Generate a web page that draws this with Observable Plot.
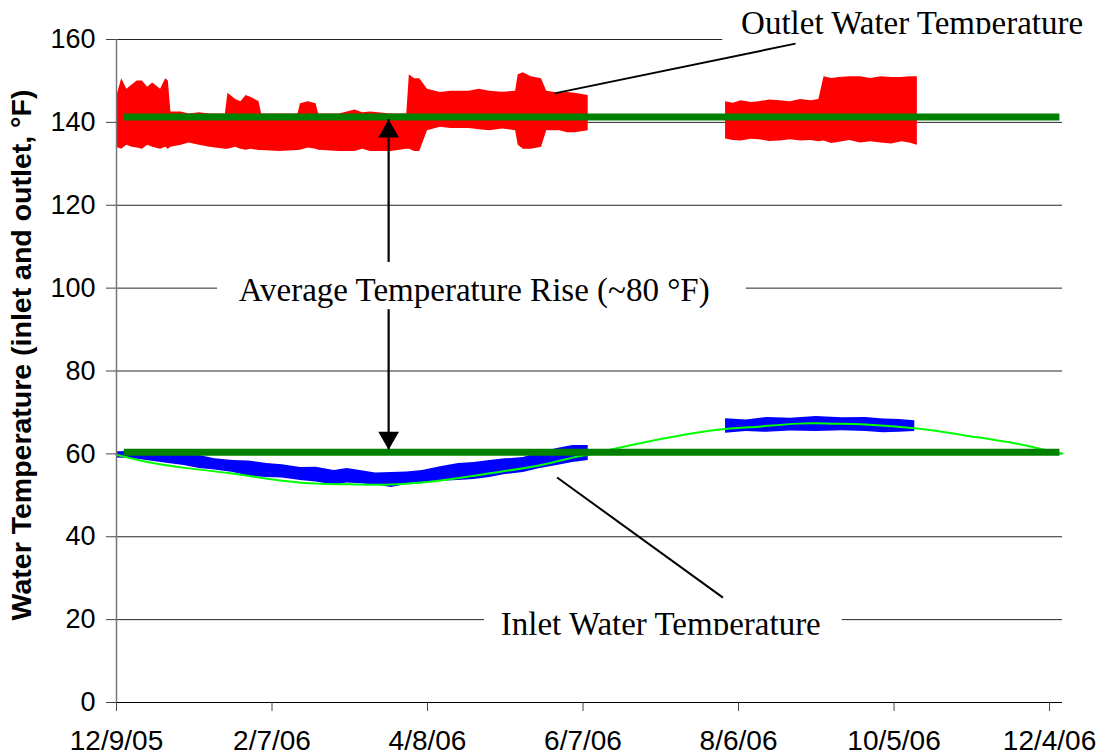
<!DOCTYPE html>
<html>
<head>
<meta charset="utf-8">
<script src="https://cdn.jsdelivr.net/npm/d3@7"></script>
<script src="https://cdn.jsdelivr.net/npm/@observablehq/plot@0.6"></script>
<style>
  html, body { margin: 0; padding: 0; background: #fff; }
  #chart svg { display: block; }
</style>
</head>
<body>
<div id="chart"></div>
<script>
// ---- axes ----
const xTickDates = ["2005-12-09", "2006-02-07", "2006-04-08", "2006-06-07", "2006-08-06", "2006-10-05", "2006-12-04"];
const xTickLabels = ["12/9/05", "2/7/06", "4/8/06", "6/7/06", "8/6/06", "10/5/06", "12/4/06"];
const yTicks = [0, 20, 40, 60, 80, 100, 120, 140, 160];
const xDomain = ["2005-12-09", "2006-12-09"];
const yTitle = "Water Temperature (inlet and outlet, \u00B0F)";

// ---- outlet water temperature (red), envelope of the logged readings ----
const outletDates1 = ["2005-12-09","2005-12-11","2005-12-13","2005-12-15","2005-12-17","2005-12-19","2005-12-21","2005-12-23","2005-12-26","2005-12-28","2005-12-29","2005-12-30",
  "2006-01-03","2006-01-06","2006-01-10","2006-01-14","2006-01-20","2006-01-21","2006-01-24","2006-01-26","2006-01-28","2006-01-30","2006-02-02","2006-02-03","2006-02-10",
  "2006-02-17","2006-02-18","2006-02-21","2006-02-24","2006-02-25","2006-03-05","2006-03-11","2006-03-14","2006-03-17","2006-03-25","2006-03-31",
  "2006-04-01","2006-04-03","2006-04-05","2006-04-08","2006-04-13","2006-04-17","2006-04-24","2006-04-28","2006-05-02","2006-05-07","2006-05-12","2006-05-13","2006-05-15","2006-05-18",
  "2006-05-22","2006-05-24","2006-05-29","2006-06-01","2006-06-04","2006-06-09"];
const outletHigh1 = [146, 150.5, 148, 149, 150, 150, 148.5, 149.5, 148, 150.5, 150, 142.5,
  142.5, 142, 142.3, 142, 142, 147, 145.5, 145, 146.5, 146, 145, 142, 142,
  142, 144.5, 145, 144.5, 142, 142, 143, 142.3, 142.5, 142, 142,
  151.5, 150.5, 150.5, 148, 147.2, 147.5, 147.5, 148, 147.5, 147.3, 147.5, 151.5, 152, 151,
  150.5, 147.5, 147, 147.2, 147, 146.5];
const outletLow1 = [134, 133.5, 134.5, 134, 133.8, 133.5, 134.5, 134, 133.5, 134, 133.5, 134,
  134.5, 135, 134.5, 134, 133.5, 133.5, 134, 133.5, 133.3, 133.5, 133.2, 133.2, 133,
  133.2, 133.3, 133.8, 133.5, 133.3, 133, 133, 133.5, 133, 133, 133.5,
  133.5, 133, 133, 138, 138.8, 138.5, 138.5, 138.2, 138, 138.4, 138, 134.5, 133.5, 133.5,
  134, 138, 138, 137.5, 137.5, 138];
const outletDates2 = ["2006-08-01","2006-08-04","2006-08-07","2006-08-11","2006-08-14","2006-08-18","2006-08-22","2006-08-26","2006-08-30","2006-09-03","2006-09-06","2006-09-08",
  "2006-09-11","2006-09-14","2006-09-18","2006-09-22","2006-09-26","2006-09-30","2006-10-04","2006-10-08","2006-10-11","2006-10-14"];
const outletHigh2 = [145, 144.6, 145.2, 144.8, 145, 145.4, 145.2, 145, 145.5, 145.2, 145.5, 151, 150.6, 150.8, 151, 151, 150.6, 151, 150.8, 150.8, 151, 151];
const outletLow2 = [136, 135.6, 135.5, 135.9, 135.8, 135.4, 135.5, 135.8, 135.5, 135.6, 135.3, 135.5, 134.9, 135.2, 135.6, 135, 135.3, 135, 134.8, 135.3, 135, 134.5];

// ---- inlet water temperature (blue) ----
const inletDates1 = ["2005-12-09","2005-12-15","2005-12-22","2005-12-29","2006-01-04","2006-01-10","2006-01-16","2006-01-23","2006-01-29","2006-02-05","2006-02-11","2006-02-18","2006-02-24",
  "2006-03-03","2006-03-08","2006-03-13","2006-03-19","2006-03-25","2006-03-31","2006-04-06","2006-04-13","2006-04-20","2006-04-26","2006-05-02","2006-05-08","2006-05-15","2006-05-21","2006-05-28","2006-06-03","2006-06-09"];
const inletHigh1 = [60.5, 60.6, 60.5, 60.8, 59.8, 59.6, 58.8, 58.4, 58.3, 57.7, 57.4, 56.7, 56.8,
  56, 56.5, 56, 55.4, 55.5, 55.6, 56, 56.9, 57.7, 57.9, 58.4, 58.8, 59.1, 60.2, 61.3, 62, 62];
const inletLow1 = [59, 58.9, 58.3, 57.7, 57.2, 56.5, 56.1, 55.5, 54.6, 54.3, 54.2, 53.6, 53.2,
  52.4, 53, 52.8, 52.5, 51.9, 52.6, 52.8, 53.4, 53.6, 53.8, 54.3, 55, 55.5, 56.4, 57.2, 57.9, 58.4];
const inletDates2 = ["2006-08-01","2006-08-09","2006-08-17","2006-08-26","2006-09-05","2006-09-15","2006-09-24","2006-10-01","2006-10-07","2006-10-13"];
const inletHigh2 = [68.5, 68.2, 68.8, 68.6, 69, 68.7, 68.8, 68.4, 68.3, 68];
const inletLow2 = [65, 65.4, 65.2, 65.5, 65.4, 65.6, 65.4, 65.1, 65.2, 65.4];

// ---- seasonal inlet fit (light green) ----
const fitDates = ["2005-12-09","2005-12-22","2006-01-06","2006-01-22","2006-02-10","2006-02-26","2006-03-13","2006-03-25",
  "2006-04-13","2006-05-02","2006-05-21","2006-06-03","2006-06-09","2006-06-21","2006-07-22","2006-08-10","2006-08-29",
  "2006-09-11","2006-09-24","2006-10-14","2006-11-02","2006-11-21","2006-12-01","2006-12-09"];
const fitValues = [59.8, 57.9, 56.5, 55.3, 53.6, 52.8, 52.6, 52.6,
  53.6, 55.3, 57.2, 59.1, 59.8, 61.5, 65.2, 66.4, 67.3,
  67.3, 67.1, 66.1, 64.4, 62.5, 61.1, 60.1];

// ---- average levels (dark green) ----
const averageLevels = [141.3, 60.4];
const averageSpan = ["2005-12-12", "2006-12-08"];

// ---- annotations ----
const riseLabel = "Average Temperature Rise (~80 \u00B0F)";
const outletLabel = "Outlet Water Temperature";
const inletLabel = "Inlet Water Temperature";
const arrowDate = "2006-03-24";
const arrowTop = 140.7, arrowBottom = 61.0;
const outletPointer = {from: ["2006-08-28", 159.0], to: ["2006-05-27", 147.0]};
const inletPointer = {from: ["2006-05-28", 54.3], to: ["2006-07-31", 25.3]};
const labelBoxes = [
  {x1: "2006-07-31", x2: "2006-12-31", y1: 158.8, y2: 172},   // outlet label box
  {x1: "2006-01-17", x2: "2006-08-09", y1: 94.8, y2: 106.2},  // rise label box
  {x1: "2006-04-30", x2: "2006-09-15", y1: 13.5, y2: 25.1}    // inlet label box
];
const labelClips = [
  {x1: "2006-07-31", x2: "2006-12-31", y1: 158.8, y2: 161.2},
  {x1: "2006-04-30", x2: "2006-09-15", y1: 13.5, y2: 16.2}
];
const outletText = {x: "2006-08-07", y: 161.4};
const riseText = {x: "2006-04-26", y: 97.0};
const inletText = {x: "2006-07-07", y: 16.3};

// ---- build tables ----
const D = s => new Date(s);
const band = (dates, hi, lo, seg) => dates.map((d, i) => ({date: D(d), hi: hi[i], lo: lo[i], seg}));
const outlet = [...band(outletDates1, outletHigh1, outletLow1, 1), ...band(outletDates2, outletHigh2, outletLow2, 2)];
const inlet = [...band(inletDates1, inletHigh1, inletLow1, 1), ...band(inletDates2, inletHigh2, inletLow2, 2)];
const fit = fitDates.map((d, i) => ({date: D(d), v: fitValues[i]}));
const tickLabelMap = new Map(xTickDates.map((d, i) => [+D(d), xTickLabels[i]]));
const boxes = labelBoxes.map(b => ({...b, x1: D(b.x1), x2: D(b.x2)}));
const clips = labelClips.map(b => ({...b, x1: D(b.x1), x2: D(b.x2)}));
const pointers = [outletPointer, inletPointer].map(p => ({x1: D(p.from[0]), y1: p.from[1], x2: D(p.to[0]), y2: p.to[1]}));

const serif = "'Liberation Serif', 'Times New Roman', serif";
const sans = "'Liberation Sans', Arial, sans-serif";
const annoFont = {lineAnchor: "bottom", fontFamily: serif, fontSize: 33, fill: "#000"};

const chart = Plot.plot({
  width: 1098,
  height: 755,
  marginLeft: 116,
  marginRight: 36,
  marginTop: 39,
  marginBottom: 53,
  x: {type: "utc", domain: xDomain.map(D), label: null},
  y: {domain: [0, 160], label: null},
  style: {fontFamily: sans, fontSize: "26px", color: "#000", background: "#fff", overflow: "visible"},
  marks: [
    Plot.gridY(yTicks.filter(v => v > 0), {stroke: "#000", strokeOpacity: 0.85, strokeWidth: 1}),
    Plot.areaY(outlet, {x: "date", y1: "lo", y2: "hi", z: "seg", fill: "#ff0000"}),
    Plot.areaY(inlet, {x: "date", y1: "lo", y2: "hi", z: "seg", fill: "#0000ff"}),
    Plot.line(fit, {x: "date", y: "v", stroke: "#00ff00", strokeWidth: 2, curve: "natural"}),
    Plot.ruleY(averageLevels, {y: d => d, x1: () => D(averageSpan[0]), x2: () => D(averageSpan[1]), stroke: "#008000", strokeWidth: 7}),
    Plot.ruleX([arrowDate], {x: d => D(d), y1: () => arrowTop, y2: () => arrowBottom, stroke: "#000", strokeWidth: 2.2}),
    Plot.dot([arrowTop], {x: () => D(arrowDate), y: d => d, symbol: "triangle", r: 7.7, fill: "#000", stroke: "none", dy: 12}),
    Plot.dot([arrowBottom], {x: () => D(arrowDate), y: d => d, symbol: "triangle", r: 7.7, fill: "#000", stroke: "none", dy: -12, rotate: 180}),
    Plot.rect(boxes, {x1: "x1", x2: "x2", y1: "y1", y2: "y2", fill: "#fff"}),
    Plot.text([outletLabel], {x: () => D(outletText.x), y: () => outletText.y, text: d => d, textAnchor: "start", ...annoFont}),
    Plot.text([riseLabel], {x: () => D(riseText.x), y: () => riseText.y, text: d => d, textAnchor: "middle", ...annoFont}),
    Plot.text([inletLabel], {x: () => D(inletText.x), y: () => inletText.y, text: d => d, textAnchor: "middle", ...annoFont}),
    Plot.rect(clips, {x1: "x1", x2: "x2", y1: "y1", y2: "y2", fill: "#fff"}),
    Plot.link(pointers, {x1: "x1", y1: "y1", x2: "x2", y2: "y2", stroke: "#000", strokeWidth: 2}),
    Plot.ruleX([xDomain[0]], {x: d => D(d), stroke: "#777", strokeWidth: 1.5}),
    Plot.ruleY([0], {stroke: "#000", strokeWidth: 1.2}),
    Plot.axisY(yTicks, {tickSize: 10, tickPadding: 11, fontSize: 27, stroke: "#444", fill: "#000", label: null}),
    Plot.axisX(xTickDates.map(D), {tickSize: 9, tickPadding: 19, fontSize: 28, stroke: "#444", fill: "#000", label: null,
      tickFormat: d => tickLabelMap.get(+d)}),
    Plot.text([yTitle], {frameAnchor: "left", dx: -95, dy: -16, rotate: -90, textAnchor: "middle", lineAnchor: "middle",
      text: d => d, fontWeight: "bold", fontSize: 28.5, fontFamily: sans, fill: "#000"})
  ]
});
document.getElementById("chart").appendChild(chart);
</script>
</body>
</html>
